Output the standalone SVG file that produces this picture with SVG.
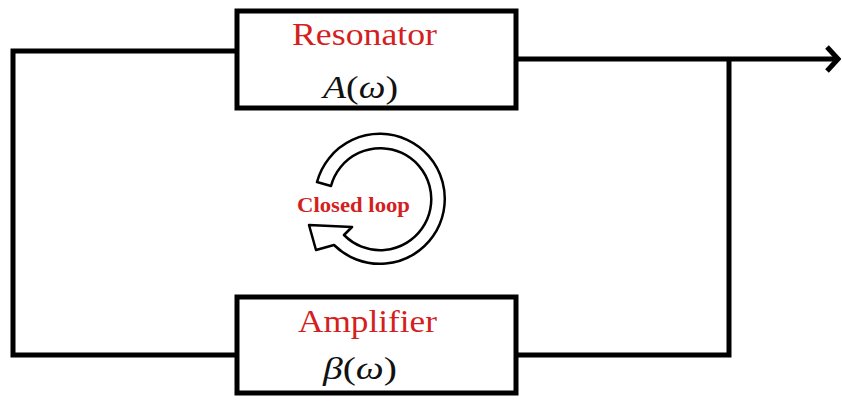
<svg xmlns="http://www.w3.org/2000/svg" width="842" height="403" viewBox="0 0 842 403">
<defs>
<style>
.box{fill:#fff;stroke:#000;stroke-width:5}
.wire{fill:none;stroke:#000;stroke-width:5;stroke-linejoin:miter}
.title{font-family:"Liberation Serif","Times New Roman",serif;font-size:31px;fill:#d41f1f}
.math{font-family:"Liberation Serif","Times New Roman",serif;font-size:32px;fill:#111}
.loop{fill:#fff;stroke:#000;stroke-width:2.5;stroke-linejoin:round}
.looptxt{font-family:"Liberation Serif","Times New Roman",serif;font-size:21px;font-weight:bold;fill:#d41f1f}
</style>
<marker id="arr" markerWidth="16" markerHeight="28" refX="13" refY="14" orient="auto" markerUnits="userSpaceOnUse">
<polyline points="2,2 13,14 2,26" fill="none" stroke="#000" stroke-width="5"/>
</marker>
</defs>
<rect width="842" height="403" fill="#fff"/>
<g id="connectors">
<polyline class="wire" points="237,51 13,51 13,355 237,355"/>
<line class="wire" x1="516" y1="59" x2="838" y2="59" marker-end="url(#arr)"/>
<polyline class="wire" points="729,59 729,355 516,355"/>
</g>
<g id="resonator">
<rect class="box" x="237" y="11" width="279" height="97"/>
<text class="title" x="292" y="45" textLength="145" lengthAdjust="spacingAndGlyphs">Resonator</text>
<text class="math" x="323" y="98" textLength="75" lengthAdjust="spacingAndGlyphs"><tspan font-style="italic">A</tspan>(<tspan font-style="italic">ω</tspan>)</text>
</g>
<g id="amplifier">
<rect class="box" x="237" y="297" width="279" height="96"/>
<text class="title" x="298" y="332" textLength="139" lengthAdjust="spacingAndGlyphs">Amplifier</text>
<text class="math" x="323" y="379" textLength="74" lengthAdjust="spacingAndGlyphs"><tspan font-style="italic">β</tspan>(<tspan font-style="italic">ω</tspan>)</text>
</g>
<g id="closed-loop">
<path class="loop" d="M331,186 A51,51 0 1 1 344,235 L352,227 L309,225 L316,250 L334,245 A65,65 0 1 0 317,182 Z"/>
<text class="looptxt" x="297" y="212" textLength="113" lengthAdjust="spacingAndGlyphs">Closed loop</text>
</g>
</svg>
